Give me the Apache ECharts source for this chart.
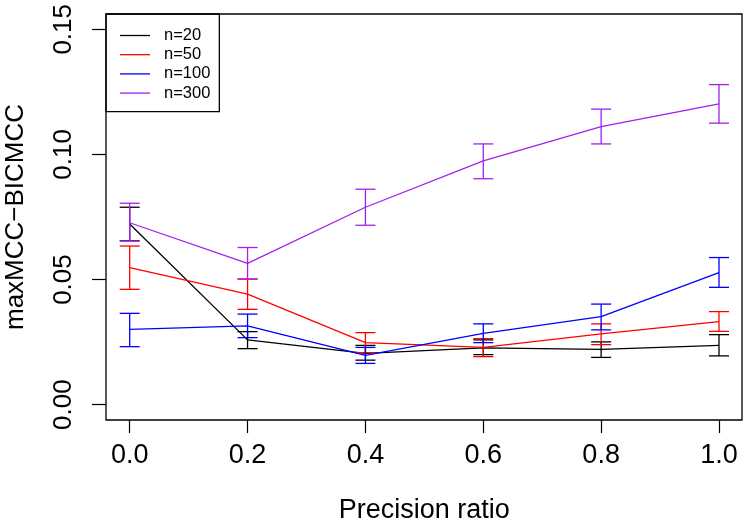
<!DOCTYPE html>
<html>
<head>
<meta charset="utf-8">
<script src="https://cdn.jsdelivr.net/npm/echarts@6/dist/echarts.min.js"></script>
<style>
html,body{margin:0;padding:0;background:#fff;}
#chart{width:746px;height:521px;}
</style>
</head>
<body>
<div id="chart"></div>
<script>
// ---- data ----
var xValues = [0, 0.2, 0.4, 0.6, 0.8, 1.0];
var seriesNames = ['n=20', 'n=50', 'n=100', 'n=300'];
var n20Mean = [0.0722, 0.0259, 0.0205, 0.0227, 0.0221, 0.0237];
var n20Low  = [0.0655, 0.0224, 0.0178, 0.0200, 0.0189, 0.0195];
var n20High = [0.0789, 0.0292, 0.0237, 0.0259, 0.0251, 0.0280];
var n50Mean = [0.0548, 0.0442, 0.0248, 0.0229, 0.0283, 0.0332];
var n50Low  = [0.0461, 0.0381, 0.0208, 0.0192, 0.0240, 0.0293];
var n50High = [0.0634, 0.0502, 0.0288, 0.0264, 0.0323, 0.0372];
var n100Mean = [0.0301, 0.0315, 0.0197, 0.0285, 0.0352, 0.0528];
var n100Low  = [0.0232, 0.0268, 0.0165, 0.0248, 0.0299, 0.0469];
var n100High = [0.0365, 0.0362, 0.0229, 0.0323, 0.0402, 0.0588];
var n300Mean = [0.0727, 0.0565, 0.0789, 0.0974, 0.1111, 0.1202];
var n300Low  = [0.0654, 0.0502, 0.0717, 0.0903, 0.1042, 0.1125];
var n300High = [0.0805, 0.0628, 0.0861, 0.1042, 0.1181, 0.1279];
var xTicks = [0, 0.2, 0.4, 0.6, 0.8, 1.0];
var yTicks = [0, 0.05, 0.10, 0.15];

var colors = ['#000000', '#FF0000', '#0000FF', '#A020F0'];
var means = [n20Mean, n50Mean, n100Mean, n300Mean];
var lows = [n20Low, n50Low, n100Low, n300Low];
var highs = [n20High, n50High, n100High, n300High];

var FONT = '"Liberation Sans", Arial, Helvetica, sans-serif';
var series = [];
for (var s = 0; s < 4; s++) {
  series.push({
    name: seriesNames[s],
    type: 'line',
    data: xValues.map(function (x, i) { return [x, means[s][i]]; }),
    symbol: 'none',
    lineStyle: { color: colors[s], width: 1.3 },
    itemStyle: { color: colors[s] },
    z: 2 + s
  });
  (function (col) {
    series.push({
      name: seriesNames[s] + ' err',
      type: 'custom',
      data: xValues.map(function (x, i) { return [x, lows[s][i], highs[s][i]]; }),
      z: 2 + s,
      renderItem: function (params, api) {
        var lo = api.coord([api.value(0), api.value(1)]);
        var hi = api.coord([api.value(0), api.value(2)]);
        var hw = 10;
        var st = { stroke: col, lineWidth: 1.3 };
        return {
          type: 'group',
          children: [
            { type: 'line', shape: { x1: lo[0], y1: lo[1], x2: hi[0], y2: hi[1] }, style: st },
            { type: 'line', shape: { x1: lo[0] - hw, y1: lo[1], x2: lo[0] + hw, y2: lo[1] }, style: st },
            { type: 'line', shape: { x1: hi[0] - hw, y1: hi[1], x2: hi[0] + hw, y2: hi[1] }, style: st }
          ]
        };
      }
    });
  })(colors[s]);
}

var chart = echarts.init(document.getElementById('chart'), null, { renderer: 'canvas' });
chart.setOption({
  animation: false,
  backgroundColor: '#ffffff',
  grid: { left: 129.7, right: 27, top: 29.3, bottom: 116.3, containLabel: false, outerBoundsMode: 'none' },
  xAxis: {
    type: 'value', min: xTicks[0], max: xTicks[xTicks.length - 1], interval: 0.2,
    offset: 15.3,
    axisLine: { show: false, onZero: false },
    axisTick: { show: true, length: 13, lineStyle: { color: '#000', width: 1.2 } },
    splitLine: { show: false },
    axisLabel: { color: '#000', fontSize: 27, fontFamily: FONT, margin: 22,
      formatter: function (v) { return v.toFixed(1); } },
    name: 'Precision ratio', nameLocation: 'middle', nameGap: 77,
    nameTextStyle: { color: '#000', fontSize: 27, fontFamily: FONT }
  },
  yAxis: {
    type: 'value', min: yTicks[0], max: yTicks[yTicks.length - 1], interval: 0.05,
    offset: 23.7,
    axisLine: { show: false, onZero: false },
    axisTick: { show: true, length: 14, lineStyle: { color: '#000', width: 1.2 } },
    splitLine: { show: false },
    axisLabel: { color: '#000', fontSize: 26, fontFamily: FONT, margin: 29, rotate: 90,
      formatter: function (v) { return v.toFixed(2); } },
    name: 'maxMCC\u2212BICMCC', nameLocation: 'middle', nameGap: 77,
    nameTextStyle: { color: '#000', fontSize: 26, fontFamily: FONT }
  },
  legend: {
    data: seriesNames,
    orient: 'vertical',
    left: 106, top: 14,
    padding: [12, 9, 9, 14],
    icon: 'rect',
    itemWidth: 30, itemHeight: 1.3, itemGap: 0.2,
    borderColor: '#000', borderWidth: 1.3,
    backgroundColor: '#fff',
    textStyle: { color: '#000', fontSize: 16.5, lineHeight: 19, fontFamily: FONT, padding: [0, 0, 0, 9] }
  },
  graphic: [{
    type: 'rect', z: 100, silent: true,
    shape: { x: 106, y: 14, width: 636, height: 406 },
    style: { fill: null, stroke: '#000', lineWidth: 1.3 }
  }],
  series: series
});
</script>
</body>
</html>
